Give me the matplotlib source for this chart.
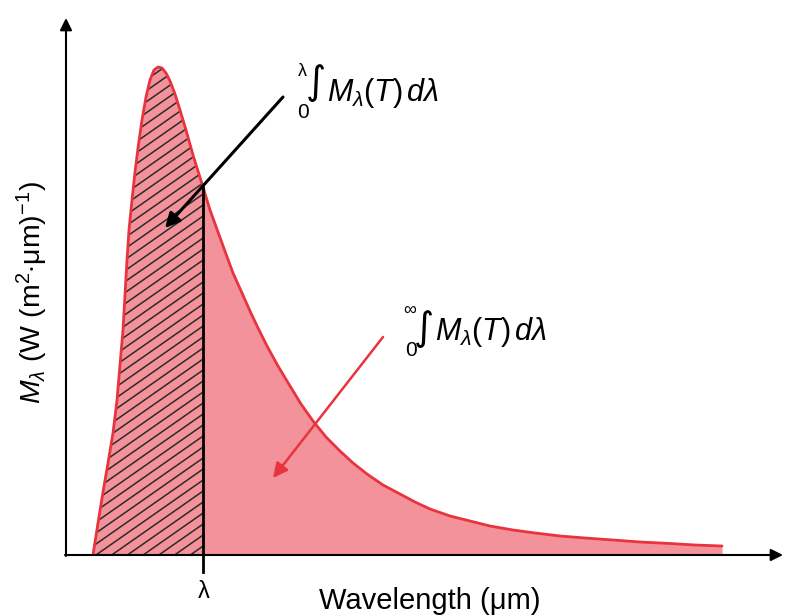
import numpy as np
import matplotlib
matplotlib.use('Agg')
import matplotlib.pyplot as plt
from matplotlib.patches import Polygon

plt.rcParams['font.family'] = ['Liberation Sans', 'DejaVu Sans']
plt.rcParams['mathtext.fontset'] = 'custom'
plt.rcParams['mathtext.rm'] = 'Liberation Sans'
plt.rcParams['mathtext.it'] = 'Liberation Sans:italic'

# curve (arbitrary units, origin at the axes corner)
wavelength = [27, 32, 37, 42, 47, 51, 54, 57, 59, 61, 63, 66, 69, 72, 76, 80,
              84, 88, 92, 96, 100, 104, 109, 114, 120, 127, 137, 144, 152, 160,
              167, 176, 184, 192, 201, 212, 224, 235, 247, 260, 274, 287, 301,
              317, 334, 349, 364, 384, 404, 424, 447, 469, 494, 519, 547, 574,
              604, 629, 656]
exitance = [0, 32, 63, 92, 122, 155, 190, 225, 260, 295, 325, 355, 383, 407,
            435, 458, 475, 485, 488, 487, 482, 474, 461, 445, 425, 400, 368,
            345, 323, 301, 282, 262, 244, 227, 209, 189, 169, 151, 134, 118,
            104, 92, 81, 70, 61, 53, 46, 39, 34, 29, 25, 22, 19, 17, 15, 13,
            11.5, 10, 9]
lam_cut = 137  # position of the lambda marker

fill_color = '#f4929b'
line_color = '#e8343e'

fig = plt.figure(figsize=(7.92, 6.16), dpi=100)
ax = fig.add_axes([66 / 792, 61 / 616, 717 / 792, 537 / 616])
ax.set_xlim(0, 717)
ax.set_ylim(0, 537)
ax.axis('off')

wl = np.array(wavelength)
m = np.array(exitance)

ax.fill_between(wl, 0, m, color=fill_color, linewidth=0)

# hatched part from 0 to lambda
m_cut = np.interp(lam_cut, wl, m)
mask = wl < lam_cut
verts = list(zip(wl[mask], m[mask])) + [(lam_cut, m_cut), (lam_cut, 0), (wl[0], 0)]
clip = Polygon(verts, closed=True, facecolor='none', edgecolor='none')
ax.add_patch(clip)
xs = np.array([0, lam_cut + 10])
for c in np.arange(-120, 500, 11):
    ln, = ax.plot(xs, 0.7 * xs + c, color='#2a2a2a', linewidth=1.1)
    ln.set_clip_path(clip)

ax.plot(wl, m, color=line_color, linewidth=2.0, solid_capstyle='round',
        solid_joinstyle='round')

# lambda marker
ax.plot([lam_cut, lam_cut], [-17, m_cut], color='black', linewidth=2, clip_on=False)
ax.text(lam_cut + 1, -37, '\u03bb', ha='center', va='center', fontsize=17)

# axes with arrow heads
ax.annotate('', xy=(0, 537), xytext=(0, -1),
            arrowprops=dict(arrowstyle='-|>', color='black', lw=1.5,
                            mutation_scale=18, shrinkA=0, shrinkB=0))
ax.annotate('', xy=(717, 0), xytext=(-1, 0),
            arrowprops=dict(arrowstyle='-|>', color='black', lw=1.5,
                            mutation_scale=18, shrinkA=0, shrinkB=0))

ax.text(364, -46, 'Wavelength (\u03bcm)', ha='center', va='center', fontsize=21)
ax.text(-34, 262, r'$M_\lambda$ (W (m$^2$$\cdot$' + '\u03bcm)' + r'$^{-1}$)',
        rotation=90, ha='center', va='center', fontsize=20.5)

# arrows to the areas
ax.annotate('', xy=(99, 327), xytext=(217, 458),
            arrowprops=dict(arrowstyle='-|>', color='black', lw=2.2,
                            mutation_scale=22, shrinkA=0, shrinkB=0))
ax.annotate('', xy=(207, 77), xytext=(317, 218),
            arrowprops=dict(arrowstyle='-|>', color=line_color, lw=1.8,
                            mutation_scale=22, shrinkA=0, shrinkB=0))

# integral labels
def integral_label(x, y, upper, dy):
    ax.text(x - 25, y + 22, upper, ha='center', va='center', fontsize=13)
    ax.text(x - 11, y + dy, '\u222b', ha='center', va='center', fontsize=28,
            family='DejaVu Sans')
    ax.text(x - 24, y - 19, '0', ha='center', va='center', fontsize=15)
    ax.text(x, y, r'$M_\lambda(T)\,d\lambda$', ha='left', va='center', fontsize=22)

integral_label(261, 462, '\u03bb', 10)
integral_label(369, 223, '\u221e', 3)

fig.savefig('out.png', dpi=100)
